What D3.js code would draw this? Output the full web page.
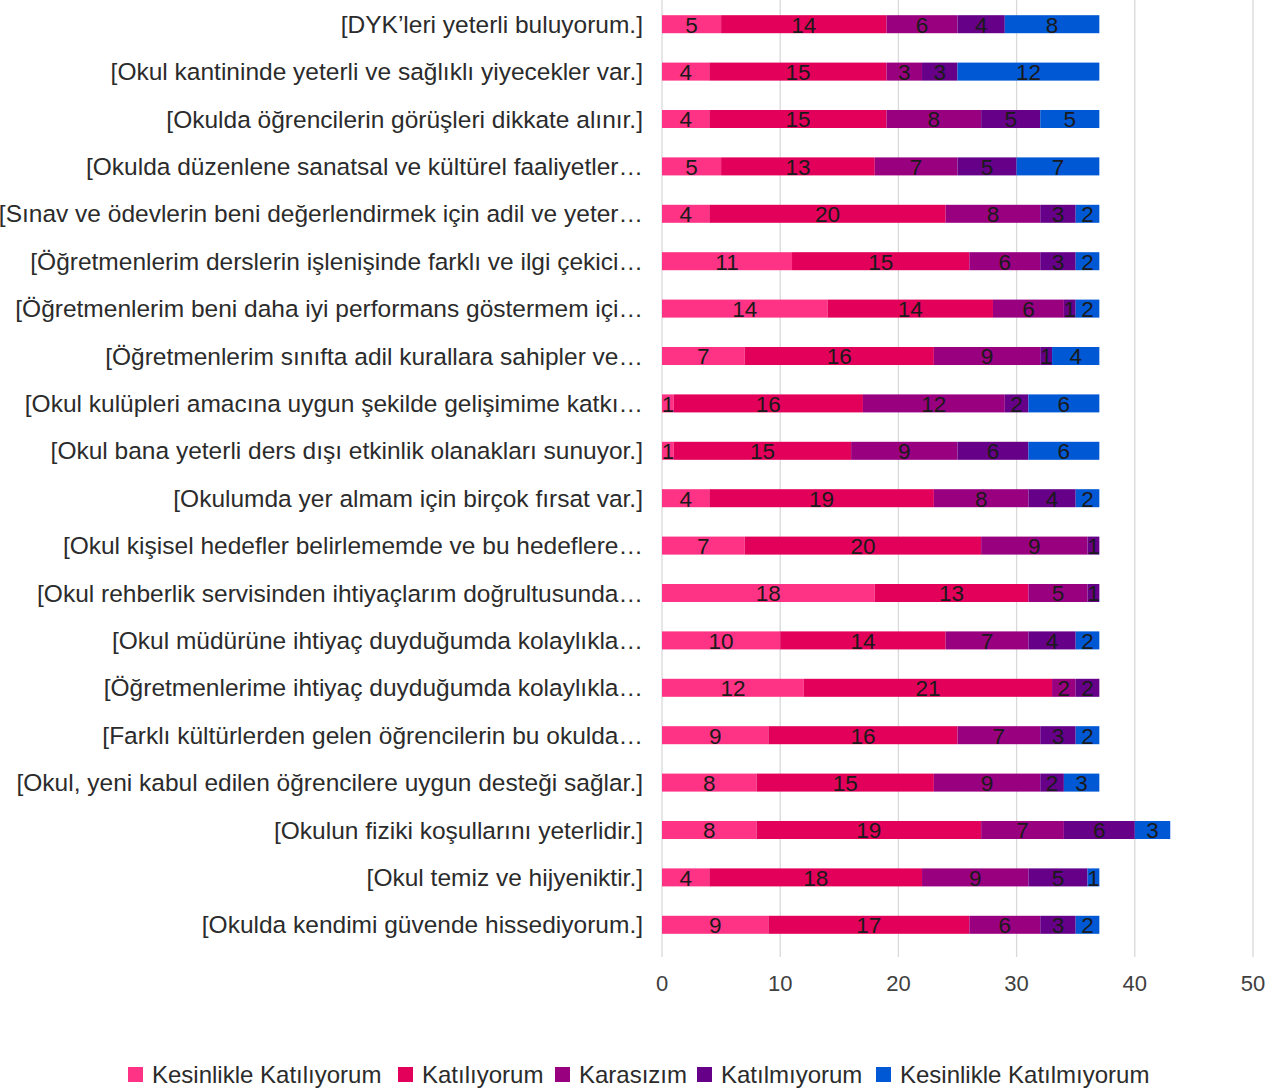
<!DOCTYPE html>
<html>
<head>
<meta charset="utf-8">
<script src="https://cdn.jsdelivr.net/npm/d3@7"></script>
<style>
  body { margin: 0; background: #fff; }
  svg { display: block; font-family: 'Liberation Sans', Arial, sans-serif; }
</style>
</head>
<body>
<div id="chart"></div>
<script>
const categories = [
  '[DYK’leri yeterli buluyorum.]',
  '[Okul kantininde yeterli ve sağlıklı yiyecekler var.]',
  '[Okulda öğrencilerin görüşleri dikkate alınır.]',
  '[Okulda düzenlene sanatsal ve kültürel faaliyetler…',
  '[Sınav ve ödevlerin beni değerlendirmek için adil ve yeter…',
  '[Öğretmenlerim derslerin işlenişinde farklı ve ilgi çekici…',
  '[Öğretmenlerim beni daha iyi performans göstermem içi…',
  '[Öğretmenlerim sınıfta adil kurallara sahipler ve…',
  '[Okul kulüpleri amacına uygun şekilde gelişimime katkı…',
  '[Okul bana yeterli ders dışı etkinlik olanakları sunuyor.]',
  '[Okulumda yer almam için birçok fırsat var.]',
  '[Okul kişisel hedefler belirlememde ve bu hedeflere…',
  '[Okul rehberlik servisinden ihtiyaçlarım doğrultusunda…',
  '[Okul müdürüne ihtiyaç duyduğumda kolaylıkla…',
  '[Öğretmenlerime ihtiyaç duyduğumda kolaylıkla…',
  '[Farklı kültürlerden gelen öğrencilerin bu okulda…',
  '[Okul, yeni kabul edilen öğrencilere uygun desteği sağlar.]',
  '[Okulun fiziki koşullarını yeterlidir.]',
  '[Okul temiz ve hijyeniktir.]',
  '[Okulda kendimi güvende hissediyorum.]'
]

const seriesNames = ['Kesinlikle Katılıyorum', 'Katılıyorum', 'Karasızım', 'Katılmıyorum', 'Kesinlikle Katılmıyorum']
const seriesColors = ['#ff3385', '#e3005a', '#990080', '#660088', '#0058d4']

const kesinlikleKatiliyorum = [5, 4, 4, 5, 4, 11, 14, 7, 1, 1, 4, 7, 18, 10, 12, 9, 8, 8, 4, 9]
const katiliyorum = [14, 15, 15, 13, 20, 15, 14, 16, 16, 15, 19, 20, 13, 14, 21, 16, 15, 19, 18, 17]
const karasizim = [6, 3, 8, 7, 8, 6, 6, 9, 12, 9, 8, 9, 5, 7, 2, 7, 9, 7, 9, 6]
const katilmiyorum = [4, 3, 5, 5, 3, 3, 1, 1, 2, 6, 4, 1, 1, 4, 2, 3, 2, 6, 5, 3]
const kesinlikleKatilmiyorum = [8, 12, 5, 7, 2, 2, 2, 4, 6, 6, 2, 0, 0, 2, 0, 2, 3, 3, 1, 2]

const xTicks = [0, 10, 20, 30, 40, 50]

const width = 1279
const height = 1092
const x0 = 662
const x1 = 1253

const rows = categories.map((c, i) => {
  const r = { cat: c }
  r[seriesNames[0]] = kesinlikleKatiliyorum[i]
  r[seriesNames[1]] = katiliyorum[i]
  r[seriesNames[2]] = karasizim[i]
  r[seriesNames[3]] = katilmiyorum[i]
  r[seriesNames[4]] = kesinlikleKatilmiyorum[i]
  return r
})

const svg = d3.select('#chart')
  .append('svg')
  .attr('width', width)
  .attr('height', height)

const x = d3.scaleLinear().domain([0, 50]).range([x0, x1])
const y = d3.scaleBand().domain(categories).range([0.5, 948.5]).paddingInner(0.62).paddingOuter(0.31)
const color = d3.scaleOrdinal().domain(seriesNames).range(seriesColors)

// gridlines
svg.append('g')
  .selectAll('line')
  .data(xTicks)
  .join('line')
  .attr('x1', d => x(d))
  .attr('x2', d => x(d))
  .attr('y1', 0)
  .attr('y2', 957)
  .attr('stroke', '#d9d9d9')
  .attr('stroke-width', 1.3)

// x tick labels
svg.append('g')
  .selectAll('text')
  .data(xTicks)
  .join('text')
  .attr('x', d => x(d))
  .attr('y', 991)
  .attr('text-anchor', 'middle')
  .attr('font-size', 22)
  .attr('fill', '#404040')
  .text(d => d)

// category labels
svg.append('g')
  .selectAll('text')
  .data(categories)
  .join('text')
  .attr('x', 643)
  .attr('y', d => y(d) + y.bandwidth() / 2)
  .attr('dy', '0.35em')
  .attr('text-anchor', 'end')
  .attr('font-size', 24.5)
  .attr('fill', '#2b2b2b')
  .text(d => d)

const stacked = d3.stack().keys(seriesNames)(rows)

const layer = svg.append('g')
  .selectAll('g')
  .data(stacked)
  .join('g')
  .attr('fill', d => color(d.key))

layer.selectAll('rect')
  .data(d => d)
  .join('rect')
  .attr('x', d => x(d[0]))
  .attr('width', d => x(d[1]) - x(d[0]))
  .attr('y', d => y(d.data.cat))
  .attr('height', y.bandwidth())

layer.selectAll('text')
  .data(d => d.filter(p => p[1] - p[0] > 0))
  .join('text')
  .attr('x', d => (x(d[0]) + x(d[1])) / 2)
  .attr('y', d => y(d.data.cat) + y.bandwidth() / 2)
  .attr('dy', '0.37em')
  .attr('text-anchor', 'middle')
  .attr('font-size', 22.5)
  .attr('fill', '#1a1a1a')
  .text(d => d[1] - d[0])

// legend
const legendX = [128, 398, 555, 697, 876]
const legend = svg.append('g')
  .selectAll('g')
  .data(seriesNames)
  .join('g')
  .attr('transform', (d, i) => `translate(${legendX[i]}, 1075)`)

legend.append('rect')
  .attr('x', 0)
  .attr('y', -8)
  .attr('width', 15)
  .attr('height', 15)
  .attr('fill', d => color(d))

legend.append('text')
  .attr('x', 24)
  .attr('y', 0)
  .attr('dy', '0.35em')
  .attr('font-size', 24)
  .attr('fill', '#2b2b2b')
  .text(d => d)
</script>
</body>
</html>
